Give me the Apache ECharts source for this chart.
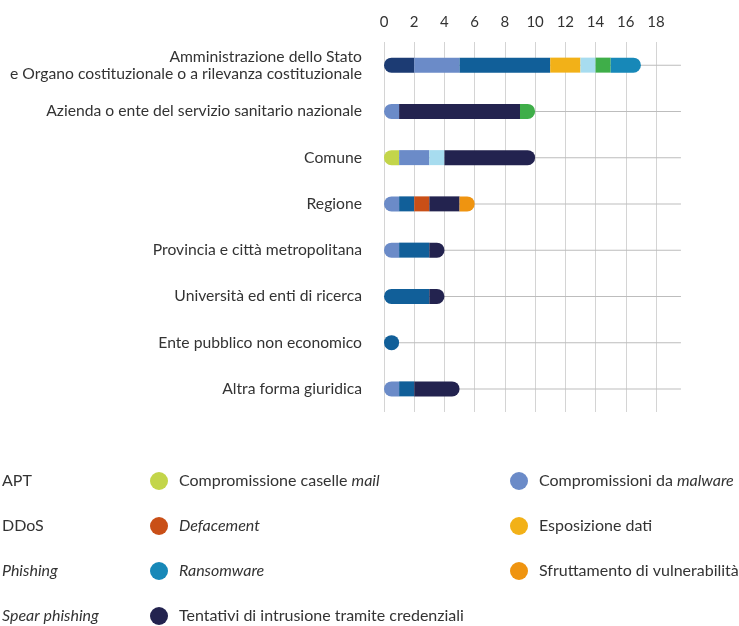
<!DOCTYPE html>
<html>
<head>
<meta charset="utf-8">
<script src="https://cdn.jsdelivr.net/npm/echarts@6/dist/echarts.min.js"></script>
<style>
  html, body { margin: 0; padding: 0; background: #fff; }
  #chart { width: 739px; height: 626px; }
</style>
</head>
<body>
<div id="chart"></div>
<script>
const categories = [
  "Amministrazione dello Stato\ne Organo costituzionale o a rilevanza costituzionale",
  "Azienda o ente del servizio sanitario nazionale",
  "Comune",
  "Regione",
  "Provincia e città metropolitana",
  "Università ed enti di ricerca",
  "Ente pubblico non economico",
  "Altra forma giuridica"
]
const xTicks = [0, 2, 4, 6, 8, 10, 12, 14, 16, 18]

// valori per serie, nell'ordine delle categorie
const apt = [2, 0, 0, 0, 0, 0, 0, 0]
const mail = [0, 0, 1, 0, 0, 0, 0, 0]
const malware = [3, 1, 2, 1, 1, 0, 0, 1]
const ddos = [6, 0, 0, 1, 2, 3, 1, 1]
const defacement = [0, 0, 0, 1, 0, 0, 0, 0]
const esposizione = [2, 0, 0, 0, 0, 0, 0, 0]
const phishing = [1, 0, 1, 0, 0, 0, 0, 0]
const tentativi = [0, 8, 6, 2, 1, 1, 0, 3]
const sfruttamento = [0, 0, 0, 1, 0, 0, 0, 0]
const spear = [1, 1, 0, 0, 0, 0, 0, 0]
const ransomware = [2, 0, 0, 0, 0, 0, 0, 0]

// linee guida orizzontali (lunghezza in unità dell'asse)
const guideLen = [19.65, 19.65, 19.65, 19.65, 19.65, 19.65, 19.65, 19.65]

const font = "Lato"
const textColor = "#333"

// ordine di impilamento
const stackSeries = [
  { name: "APT", data: apt, color: "#1c3b73" },
  { name: "Compromissione caselle mail", data: mail, color: "#c3d54a" },
  { name: "Compromissioni da malware", data: malware, color: "#6b8bc8" },
  { name: "DDoS", data: ddos, color: "#115f99" },
  { name: "Defacement", data: defacement, color: "#c94f17" },
  { name: "Esposizione dati", data: esposizione, color: "#f2b118" },
  { name: "Phishing", data: phishing, color: "#a7dcef" },
  { name: "Tentativi di intrusione tramite credenziali", data: tentativi, color: "#23234f" },
  { name: "Sfruttamento di vulnerabilità", data: sfruttamento, color: "#ef9410" },
  { name: "Spear phishing", data: spear, color: "#3fae49" },
  { name: "Ransomware", data: ransomware, color: "#1788b8" }
]

const legendLabels = {
  "APT": "APT",
  "DDoS": "DDoS",
  "Phishing": "{i|Phishing}",
  "Spear phishing": "{i|Spear phishing}",
  "Compromissione caselle mail": "Compromissione caselle {i|mail}",
  "Defacement": "{i|Defacement}",
  "Ransomware": "{i|Ransomware}",
  "Tentativi di intrusione tramite credenziali": "Tentativi di intrusione tramite credenziali",
  "Compromissioni da malware": "Compromissioni da {i|malware}",
  "Esposizione dati": "Esposizione dati",
  "Sfruttamento di vulnerabilità": "Sfruttamento di vulnerabilità"
}

const R = 7.5
// arrotonda solo le estremità di ogni barra
function radiusFor(si, ci) {
  let first = -1, last = -1
  stackSeries.forEach((s, k) => {
    if (s.data[ci] > 0) {
      if (first < 0) first = k
      last = k
    }
  })
  const l = si === first ? R : 0
  const r = si === last ? R : 0
  return [l, r, r, l]
}

const series = stackSeries.map((s, si) => ({
  name: s.name,
  type: "bar",
  stack: "tot",
  barWidth: 15,
  z: 3,
  itemStyle: { color: s.color },
  data: s.data.map((v, ci) => ({
    value: v === 0 ? null : v,
    itemStyle: { borderRadius: radiusFor(si, ci) }
  }))
}))

series.unshift({
  name: "guide",
  type: "bar",
  xAxisIndex: 0,
  yAxisIndex: 1,
  barWidth: 1,
  clip: false,
  silent: true,
  z: 1,
  itemStyle: { color: "#bdbdbd" },
  data: guideLen
})

const legendBase = {
  orient: "vertical",
  icon: "circle",
  itemWidth: 18,
  itemHeight: 18,
  itemGap: 27,
  top: 472,
  padding: 0,
  height: 160,
  selectedMode: false,
  formatter: n => legendLabels[n],
  textStyle: {
    fontFamily: font,
    fontSize: 16,
    color: textColor,
    padding: [0, 0, 0, 6],
    rich: { i: { fontFamily: font, fontSize: 16, color: textColor, fontStyle: "italic" } }
  }
}

const chart = echarts.init(document.getElementById("chart"))
chart.setOption({
  animation: false,
  color: stackSeries.map(s => s.color),
  grid: { left: 384, top: 42, width: 272, height: 370 },
  legend: [
    Object.assign({}, legendBase, { left: -27, data: ["APT", "DDoS", "Phishing", "Spear phishing"] }),
    Object.assign({}, legendBase, { left: 150, data: ["Compromissione caselle mail", "Defacement", "Ransomware", "Tentativi di intrusione tramite credenziali"] }),
    Object.assign({}, legendBase, { left: 510, data: ["Compromissioni da malware", "Esposizione dati", "Sfruttamento di vulnerabilità"] })
  ],
  xAxis: {
    type: "value",
    position: "top",
    min: xTicks[0],
    max: xTicks[xTicks.length - 1],
    interval: 2,
    axisLine: { show: false },
    axisTick: { show: false },
    axisLabel: { margin: 12, fontFamily: font, fontSize: 15, color: textColor },
    splitLine: { lineStyle: { color: "#d4d4d4", width: 1 } }
  },
  yAxis: [
    {
      type: "category",
      inverse: true,
      data: categories,
      axisLine: { show: false },
      axisTick: { show: false },
      axisLabel: { margin: 22, fontFamily: font, fontSize: 15.7, color: textColor, lineHeight: 17 }
    },
    {
      type: "category",
      inverse: true,
      data: categories,
      show: false
    }
  ],
  series: series
})
</script>
</body>
</html>
